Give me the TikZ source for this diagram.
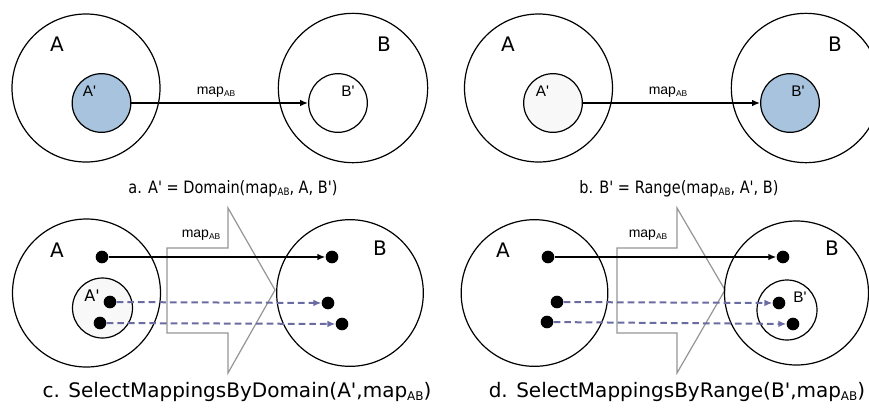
\documentclass[tikz,border=0pt]{standalone}
\usepackage{fontspec}
\setmainfont[Ligatures=TeXOff]{Liberation Sans}
\newfontfamily\capfont[FakeStretch=0.85,Ligatures=TeXOff]{DejaVu Sans}
\newfontfamily\dvfont[Ligatures=TeXOff]{DejaVu Sans}
\usetikzlibrary{arrows.meta}
\definecolor{setblue}{HTML}{A8C3DD}
\definecolor{dashblue}{HTML}{6B6BA3}
\definecolor{lightfill}{HTML}{F8F8F8}
\definecolor{bigarrowgray}{HTML}{959595}
\newcommand{\subAB}{\raisebox{-0.3ex}{\scalebox{0.6}{AB}}}
\begin{document}
\begin{tikzpicture}[x=0.75pt,y=-0.75pt,
  bigset/.style={circle, draw, line width=0.9pt, inner sep=0},
  subset/.style={circle, draw, line width=0.9pt, inner sep=0, minimum size=44pt},
  dot/.style={circle, fill=black, inner sep=0, minimum size=9.5pt},
  maparrow/.style={-{Latex[length=6pt,width=5pt]}, line width=1.4pt},
  dasharrow/.style={draw=dashblue, line width=1.5pt, dash pattern=on 5pt off 3pt, -{Latex[length=6pt,width=5pt]}},
  setlabel/.style={font=\dvfont\fontsize{15pt}{16pt}\selectfont, inner sep=0},
  sublabel/.style={font=\fontsize{11.5pt}{13pt}\selectfont, inner sep=0},
  maplabel/.style={font=\fontsize{10.5pt}{12pt}\selectfont, inner sep=0},
  captiona/.style={font=\capfont\fontsize{12.8pt}{15pt}\selectfont, inner sep=0, anchor=base},
  captionc/.style={font=\dvfont\fontsize{15pt}{17pt}\selectfont, inner sep=0, anchor=base},
  bigarrow/.style={draw=bigarrowgray, line width=0.9pt}
]
\path[use as bounding box] (0,0) rectangle (869,412);

% ---------- panel a ----------
\node[bigset, minimum size=111pt] (Aa) at (86,88) {};
\node[bigset, minimum size=112pt] (Ba) at (353,88) {};
\node[subset, fill=setblue] (Apa) at (101.5,103) {};
\node[subset] (Bpa) at (338,103) {};
\draw[maparrow] (Apa) -- (Bpa);
\node[setlabel] (la1) at (57,44) {A};
\node[setlabel] (lb1) at (384,44) {B};
\node[sublabel] (lap1) at (89.5,91) {A'};
\node[sublabel] (lbp1) at (348,91) {B'};
\node[maplabel] (m1) at (216,92) {map\subAB};
\node[captiona] (ca) at (233,193) {a. A' = Domain(map\subAB, A, B')};

% ---------- panel b ----------
\node[bigset, minimum size=111pt] (Ab) at (538.5,88) {};
\node[bigset, minimum size=112pt] (Bb) at (806,88) {};
\node[subset, fill=lightfill] (Apb) at (553,103) {};
\node[subset, fill=setblue] (Bpb) at (790,103) {};
\draw[maparrow] (Apb) -- (Bpb);
\node[setlabel] (la2) at (508,44) {A};
\node[setlabel] (lb2) at (835,44) {B};
\node[sublabel] (lap2) at (542.5,91) {A'};
\node[sublabel] (lbp2) at (798,91) {B'};
\node[maplabel] (m2) at (668,92) {map\subAB};
\node[captiona] (cb) at (679,193) {b. B' = Range(map\subAB, A', B)};

% ---------- panel c ----------
\draw[bigarrow] (167,248) -- (228,248) -- (228,208) -- (275,290) -- (228,373) -- (228,333) -- (167,333) -- cycle;
\node[maplabel] (m3) at (201,235) {map\subAB};
\node[bigset, minimum size=111pt] (Ac) at (86.5,293) {};
\node[bigset, minimum size=110pt] (Bc) at (350,293) {};
\node[subset, fill=lightfill, minimum size=45pt] (Apc) at (102.5,308) {};
\node[setlabel] (la3) at (57,250) {A};
\node[setlabel] (lb3) at (380,248) {B};
\node[sublabel, font=\dvfont\fontsize{12pt}{13pt}\selectfont] (lap3) at (92,296) {A'};
\node[dot] (ca1) at (102,257) {};
\node[dot] (ca2) at (110,302) {};
\node[dot] (ca3) at (100,323) {};
\node[dot] (cb1) at (332,257) {};
\node[dot] (cb2) at (328,303) {};
\node[dot] (cb3) at (342,324) {};
\draw[maparrow] (ca1) -- (cb1);
\draw[dasharrow] (ca2) -- (cb2);
\draw[dasharrow] (ca3) -- (cb3);
\node[captionc] (cc) at (237,397) {c. SelectMappingsByDomain(A',map\subAB)};

% ---------- panel d ----------
\draw[bigarrow] (617,248) -- (677,248) -- (677,208) -- (725,290) -- (677,373) -- (677,333) -- (617,333) -- cycle;
\node[maplabel] (m4) at (648,235) {map\subAB};
\node[bigset, minimum size=110pt] (Ad) at (534.5,293) {};
\node[bigset, minimum size=108pt] (Bd) at (796.5,293) {};
\node[subset, minimum size=45pt] (Bpd) at (787,310) {};
\node[setlabel] (la4) at (503,250) {A};
\node[setlabel] (lb4) at (832,248) {B};
\node[sublabel] (lbp4) at (800,297) {B'};
\node[dot] (da1) at (548,257) {};
\node[dot] (da2) at (557,302) {};
\node[dot] (da3) at (547,322) {};
\node[dot] (db1) at (783,257) {};
\node[dot] (db2) at (779,303) {};
\node[dot] (db3) at (793,324) {};
\draw[maparrow] (da1) -- (db1);
\draw[dasharrow] (da2) -- (db2);
\draw[dasharrow] (da3) -- (db3);
\node[captionc] (cd) at (677,397) {d. SelectMappingsByRange(B',map\subAB)};
\end{tikzpicture}
\end{document}
